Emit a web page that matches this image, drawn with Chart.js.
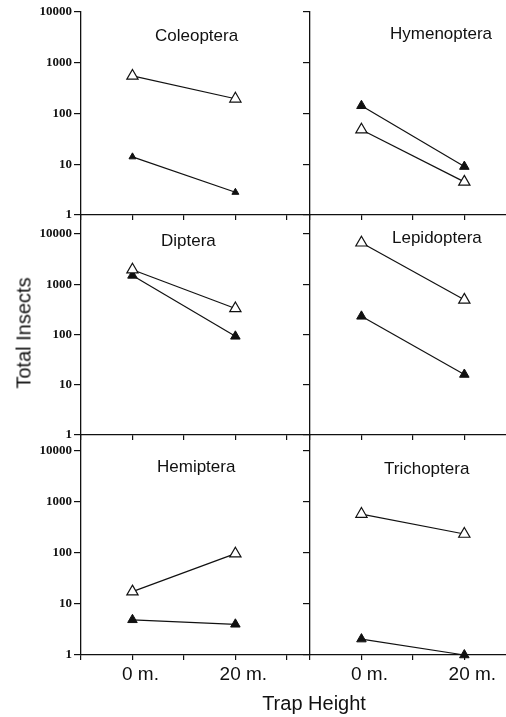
<!DOCTYPE html>
<html lang="en">
<head>
<meta charset="UTF-8">
<title>Total Insects by Trap Height</title>
<script src="https://cdn.jsdelivr.net/npm/chart.js"></script>
<style>
    body { margin: 0; background: #fff; }
    .wrap { position: relative; width: 506px; height: 717px; overflow: hidden; }
    .wrap canvas { position: absolute; left: 0; top: 0; }
    .axis-title {
        position: absolute;
        font-family: "Liberation Sans", Arial, sans-serif;
        font-size: 20px;
        color: #111;
        white-space: nowrap;
    }
    #yTitle { left: 24px; top: 333px; transform: translate(-50%, -50%) rotate(-90deg); }
    #xTitle { left: 314px; top: 703px; transform: translate(-50%, -50%); }
</style>
</head>
<body>
<div class="wrap" id="wrap">
    <div class="axis-title" id="yTitle">Total Insects</div>
    <div class="axis-title" id="xTitle">Trap Height</div>
</div>
<script>
    // Données : hauteur du piège (0 m. / 20 m.), deux séries par ordre
    const categories = ['0 m.', '20 m.'];
    const heights = [0, 20];
    const yTicks = [1, 10, 100, 1000, 10000];
    const xTicks = [-10, 0, 10, 20, 30];

    const coleopteraOpen = [550, 195];
    const coleopteraFilled = [14, 2.8];
    const hymenopteraOpen = [48, 4.5];
    const hymenopteraFilled = [142, 9];
    const dipteraOpen = [1950, 330];
    const dipteraFilled = [1500, 92];
    const lepidopteraOpen = [6700, 490];
    const lepidopteraFilled = [230, 16];
    const hemipteraOpen = [17.5, 97];
    const hemipteraFilled = [4.9, 4.0];
    const trichopteraOpen = [580, 236];
    const trichopteraFilled = [2.05, 1];

    // mise en page : 3 rangées x 2 colonnes
    const rows = [
        { top: 12, bottom: 215, max: 10000, xHeight: 6 },
        { top: 215, bottom: 435, max: 23900, xHeight: 6 },
        { top: 435, bottom: 655, max: 20600, xHeight: 40 }
    ];
    const cols = [
        { padLeft: 0, axisW: 81, padRight: 196, xMax: 34.5, labels: true },
        { padLeft: 300, axisW: 10, padRight: 0, xMax: 28.1, labels: false }
    ];
    const panels = [
        { name: 'Coleoptera', open: coleopteraOpen, filled: coleopteraFilled, row: 0, col: 0, tx: 155, ty: 36, small: true },
        { name: 'Hymenoptera', open: hymenopteraOpen, filled: hymenopteraFilled, row: 0, col: 1, tx: 390, ty: 34 },
        { name: 'Diptera', open: dipteraOpen, filled: dipteraFilled, row: 1, col: 0, tx: 161, ty: 241 },
        { name: 'Lepidoptera', open: lepidopteraOpen, filled: lepidopteraFilled, row: 1, col: 1, tx: 392, ty: 238 },
        { name: 'Hemiptera', open: hemipteraOpen, filled: hemipteraFilled, row: 2, col: 0, tx: 157, ty: 467 },
        { name: 'Trichoptera', open: trichopteraOpen, filled: trichopteraFilled, row: 2, col: 1, tx: 384, ty: 469 }
    ];

    const ink = '#111';

    // titre de chaque panneau, dessiné dans la zone du graphique
    const panelTitle = {
        id: 'panelTitle',
        afterDraw(chart, args, opts) {
            const ctx = chart.ctx;
            ctx.save();
            ctx.font = '17px "Liberation Sans", Arial, sans-serif';
            ctx.fillStyle = ink;
            ctx.textBaseline = 'middle';
            ctx.fillText(opts.text, opts.x, opts.y);
            ctx.restore();
        }
    };

    const wrap = document.getElementById('wrap');

    panels.forEach(p => {
        const row = rows[p.row];
        const col = cols[p.col];
        const canvas = document.createElement('canvas');
        canvas.width = 506;
        canvas.height = 717;
        wrap.insertBefore(canvas, wrap.firstChild);

        new Chart(canvas, {
            type: 'line',
            data: {
                datasets: [
                    {
                        data: heights.map((h, i) => ({ x: h, y: p.open[i] })),
                        borderColor: ink,
                        borderWidth: 1.2,
                        pointStyle: 'triangle',
                        pointRadius: 6.5,
                        pointBackgroundColor: '#fff',
                        pointBorderColor: ink,
                        pointBorderWidth: 1.2,
                        clip: false
                    },
                    {
                        data: heights.map((h, i) => ({ x: h, y: p.filled[i] })),
                        borderColor: ink,
                        borderWidth: 1.2,
                        pointStyle: 'triangle',
                        pointRadius: p.small ? 4 : 5.5,
                        pointBackgroundColor: ink,
                        pointBorderColor: ink,
                        pointBorderWidth: 1,
                        clip: false
                    }
                ]
            },
            options: {
                responsive: false,
                animation: false,
                devicePixelRatio: 1,
                events: [],
                layout: {
                    autoPadding: false,
                    padding: {
                        left: col.padLeft,
                        right: col.padRight,
                        top: row.top,
                        bottom: 717 - row.bottom - row.xHeight
                    }
                },
                plugins: {
                    legend: { display: false },
                    tooltip: { enabled: false },
                    panelTitle: { text: p.name, x: p.tx, y: p.ty }
                },
                scales: {
                    x: {
                        type: 'linear',
                        min: -10,
                        max: col.xMax,
                        afterBuildTicks: s => { s.ticks = xTicks.filter(v => v <= s.max).map(v => ({ value: v })); },
                        afterFit: s => { s.height = row.xHeight; },
                        grid: { display: true, drawOnChartArea: false, drawTicks: true, tickLength: 5, color: ink, lineWidth: 1.2 },
                        border: { display: true, color: ink, width: 1.3 },
                        ticks: {
                            display: p.row === 2,
                            autoSkip: false,
                            maxRotation: 0,
                            padding: 3,
                            labelOffset: 8,
                            color: ink,
                            font: { family: '"Liberation Sans", Arial, sans-serif', size: 19 },
                            callback: v => {
                                const i = heights.indexOf(v);
                                return i < 0 ? '' : categories[i];
                            }
                        }
                    },
                    y: {
                        type: 'logarithmic',
                        min: 1,
                        max: row.max,
                        afterBuildTicks: s => { s.ticks = yTicks.map(v => ({ value: v })); },
                        afterFit: s => { s.width = col.axisW; },
                        grid: { display: true, drawOnChartArea: false, drawTicks: true, tickLength: 7, color: ink, lineWidth: 1.2 },
                        border: { display: true, color: ink, width: 1.3 },
                        ticks: {
                            display: col.labels,
                            padding: 2,
                            color: ink,
                            font: { family: '"Liberation Serif", "Times New Roman", serif', size: 13, weight: 'bold' },
                            callback: v => String(v)
                        }
                    }
                }
            },
            plugins: [panelTitle]
        });
    });
</script>
</body>
</html>
